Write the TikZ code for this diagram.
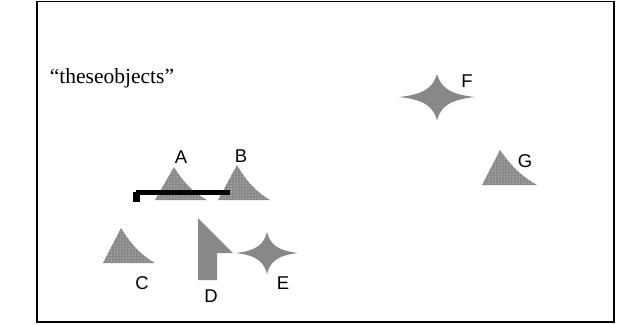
\documentclass[tikz,border=0pt]{standalone}
\usepackage{fontspec}
\setmainfont{Liberation Serif}
\newfontfamily\labelfont{Liberation Sans}
\usetikzlibrary{patterns,calc}
\definecolor{shapegray}{HTML}{888888}
\tikzset{
  frameline/.style={line width=1.4pt, draw=black},
  dotfill/.style={fill=shapegray},
  dotover/.style={pattern=dots, pattern color=white},
  solidshape/.style={fill=shapegray},
  lbl/.style={font=\labelfont\fontsize{18.5}{18.5}\selectfont, inner sep=0pt},
  caption/.style={font=\fontsize{21.5}{21.5}\selectfont, inner sep=0pt},
  bar/.style={fill=black}
}
% sail-shaped triangle: base left, apex, base right
\newcommand\sailtri[3]{%
  \fill[dotfill] #1 .. controls ($#1!0.45!#2$) and ($#1!0.8!#2$) .. #2
     .. controls ($#2!0.55!#3+(-7,0)$) and ($#2!0.8!#3+(-5,0)$) .. #3 -- cycle;
  \fill[dotover] #1 .. controls ($#1!0.45!#2$) and ($#1!0.8!#2$) .. #2
     .. controls ($#2!0.55!#3+(-7,0)$) and ($#2!0.8!#3+(-5,0)$) .. #3 -- cycle;}
% four-pointed star: centre x, centre y, half width, half height
\newcommand\fourstar[4]{%
  \fill[solidshape] (#1-#3,#2) .. controls (#1-0.3*#3,#2-0.12*#4) and (#1-0.1*#3,#2-0.45*#4) .. (#1,#2-#4)
    .. controls (#1+0.1*#3,#2-0.45*#4) and (#1+0.3*#3,#2-0.12*#4) .. (#1+#3,#2)
    .. controls (#1+0.3*#3,#2+0.12*#4) and (#1+0.1*#3,#2+0.45*#4) .. (#1,#2+#4)
    .. controls (#1-0.1*#3,#2+0.45*#4) and (#1-0.3*#3,#2+0.12*#4) .. (#1-#3,#2) -- cycle;}
\begin{document}
\begin{tikzpicture}[x=1pt,y=-1pt]
\useasboundingbox (0,0) rectangle (617,324);
\fill[white] (0,0) rectangle (617,324);
% frame
\draw[frameline] (37,322) -- (37,1.5) -- (614,1.5) -- (614,322) -- cycle;

\node[caption] (title) at (112,78) {“theseobjects”};

% objects
\sailtri{(155,200)}{(174,167)}{(207,200)}
\sailtri{(218,200)}{(237,165)}{(270,200)}
\sailtri{(103,263)}{(121,228)}{(155,263)}
\sailtri{(482,185)}{(500,150)}{(537,185)}

% black bar over A and B
\fill[bar] (136,190) rectangle (230,194.5);
\fill[bar] (133,192) rectangle (140,202);

% pointer D
\fill[solidshape] (198,218) -- (233,253) -- (217,253) -- (217,280) -- (198,280) -- cycle;

% stars
\fourstar{267}{253}{31}{21}
\fourstar{437}{97}{38}{23}

% labels
\node[lbl] (la) at (181,157) {A};
\node[lbl] (lb) at (241,156) {B};
\node[lbl] (lc) at (142,283) {C};
\node[lbl] (ld) at (211,296) {D};
\node[lbl] (le) at (283,283) {E};
\node[lbl] (lf) at (467,81) {F};
\node[lbl] (lg) at (525,161) {G};
\end{tikzpicture}
\end{document}
